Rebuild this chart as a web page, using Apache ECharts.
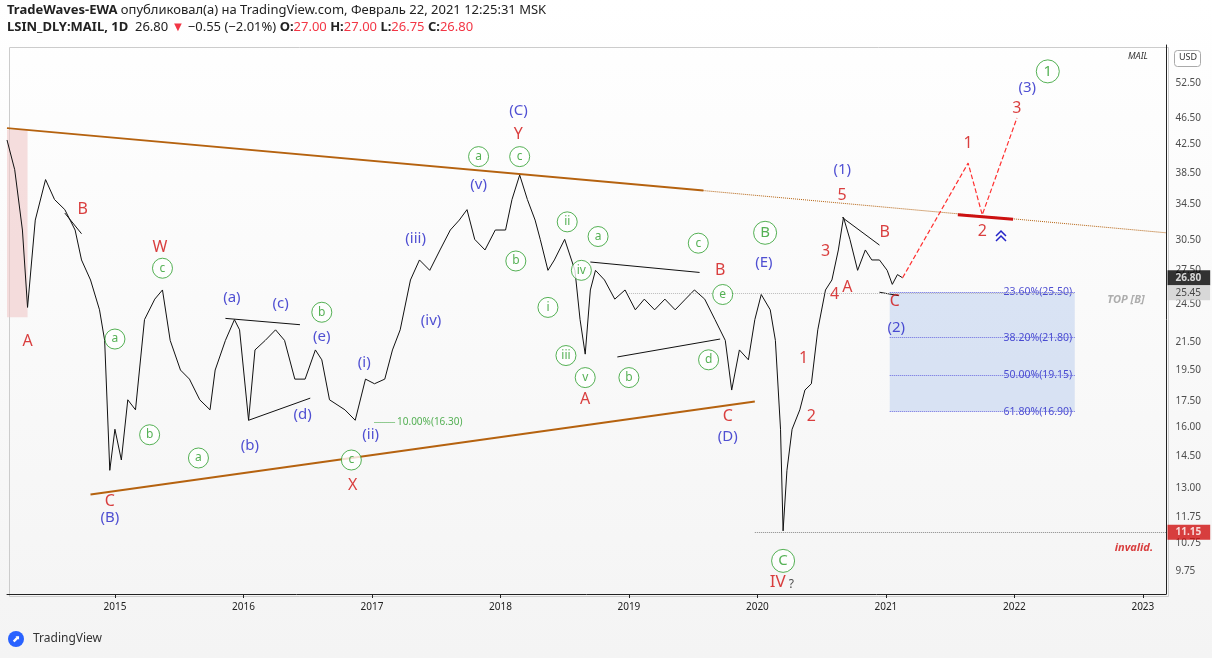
<!DOCTYPE html>
<html><head><meta charset="utf-8">
<script src="https://cdn.jsdelivr.net/npm/echarts@6/dist/echarts.min.js"></script>
<style>html,body{margin:0;padding:0;background:#fff}#c{width:1212px;height:658px}</style>
</head><body><div id="c"></div>
<script>
// price path: [decimal year, price]
const priceYears = [2014.16,2014.22,2014.28,2014.32,2014.38,2014.46,2014.53,2014.61,2014.69,2014.74,2014.81,2014.88,2014.92,2014.96,2015.00,2015.05,2015.10,2015.16,2015.23,2015.31,2015.37,2015.43,2015.51,2015.58,2015.66,2015.74,2015.78,2015.86,2015.93,2015.97,2016.04,2016.09,2016.17,2016.25,2016.32,2016.40,2016.48,2016.56,2016.61,2016.67,2016.79,2016.87,2016.95,2017.02,2017.10,2017.16,2017.22,2017.30,2017.37,2017.45,2017.53,2017.61,2017.68,2017.74,2017.80,2017.88,2017.96,2018.04,2018.09,2018.15,2018.21,2018.27,2018.31,2018.37,2018.42,2018.50,2018.58,2018.62,2018.66,2018.70,2018.74,2018.81,2018.89,2018.97,2019.05,2019.12,2019.20,2019.28,2019.36,2019.44,2019.51,2019.59,2019.67,2019.75,2019.80,2019.86,2019.93,2019.98,2020.03,2020.10,2020.14,2020.18,2020.20,2020.23,2020.27,2020.33,2020.37,2020.42,2020.47,2020.53,2020.58,2020.63,2020.67,2020.72,2020.78,2020.84,2020.89,2020.95,2021.01,2021.05,2021.09,2021.13];
const priceValues = [43.1,38.9,31.6,24.2,32.7,37.6,35.1,33.9,31.6,28.5,26.6,24.0,21.6,13.8,15.9,14.3,17.6,17.0,23.2,24.9,25.7,21.6,19.5,18.9,17.6,17.0,19.5,21.6,23.2,22.4,16.4,20.9,21.6,22.4,21.6,18.9,18.9,20.9,20.2,17.6,17.0,16.4,18.9,18.6,18.9,20.9,22.4,26.6,28.5,27.5,29.5,31.6,32.7,33.9,30.6,29.5,31.6,31.6,35.1,38.2,35.1,32.7,30.6,27.5,28.5,30.6,27.5,23.2,20.6,25.7,27.5,26.6,24.9,25.7,24.0,24.9,24.0,24.9,24.0,24.9,25.7,24.9,23.2,21.6,18.2,20.9,20.2,23.2,25.3,24.0,21.6,15.9,11.2,13.8,15.9,17.0,18.2,18.6,22.4,25.7,26.6,29.5,33.0,30.6,27.5,29.5,28.5,28.5,27.5,26.2,27.1,26.8];
const yearTicks = [2015,2016,2017,2018,2019,2020,2021,2022,2023];
const priceTicks = [52.50,46.50,42.50,38.50,34.50,30.50,27.50,24.50,21.50,19.50,17.50,16.00,14.50,13.00,11.75,10.75,9.75];
// annotations: [year, price, text]
const redLabels = [[2014.32,21.5,'A'],[2014.75,33.9,'B'],[2015.35,29.8,'W'],[2014.96,12.4,'C'],[2018.14,43.9,'Y'],[2016.85,13.1,'X'],[2018.66,17.6,'A'],[2019.71,27.5,'B'],[2019.77,16.6,'C'],[2020.36,20.3,'1'],[2020.42,16.6,'2'],[2020.53,29.4,'3'],[2020.60,25.3,'4'],[2020.66,35.6,'5'],[2020.70,25.9,'A'],[2020.99,31.3,'B'],[2021.07,24.7,'C'],[2021.64,42.6,'1'],[2021.75,31.4,'2'],[2022.02,48.0,'3']];
const blueLabels = [[2014.96,11.7,'(B)'],[2018.14,47.6,'(C)'],[2017.83,37.0,'(v)'],[2017.34,30.7,'(iii)'],[2017.46,23.1,'(iv)'],[2016.94,20.0,'(i)'],[2016.99,15.6,'(ii)'],[2015.91,25.0,'(a)'],[2016.05,15.0,'(b)'],[2016.29,24.5,'(c)'],[2016.46,16.7,'(d)'],[2016.61,21.9,'(e)'],[2020.05,28.2,'(E)'],[2019.77,15.5,'(D)'],[2020.66,38.9,'(1)'],[2021.08,22.6,'(2)'],[2022.10,51.6,'(3)']];
const greenCircled = [[2015.0,21.7,'a'],[2015.27,15.6,'b'],[2015.37,27.7,'c'],[2015.65,14.4,'a'],[2016.61,23.8,'b'],[2016.84,14.3,'c'],[2017.83,40.7,'a'],[2018.15,40.7,'c'],[2018.52,32.5,'ii'],[2018.76,30.9,'a'],[2018.12,28.4,'b'],[2018.37,24.2,'i'],[2018.63,27.5,'iv'],[2018.51,20.5,'iii'],[2018.66,19.0,'v'],[2019.0,19.0,'b'],[2019.54,30.2,'c'],[2019.73,25.3,'e'],[2019.62,20.2,'d']];
const greenBig = [[2020.06,31.3,'B'],[2020.20,10.1,'C'],[2022.26,54.6,'1']];
const upperTrendSolid = [[2014.16,44.9],[2019.58,36.2]];
const upperTrendDotted = [[2019.58,36.2],[2023.18,31.3]];
const lowerTrend = [[2014.81,12.7],[2019.98,17.5]];
const projection = [[2021.13,26.8],[2021.64,39.8],[2021.75,33.3],[2022.02,46.5]];
const redBar = [[2021.56,33.3],[2021.99,32.8]];
const blackLines = [[[2018.70,28.3],[2019.55,27.3]],[[2018.91,20.4],[2019.71,21.7]],[[2015.86,23.3],[2016.44,22.8]],[[2016.04,16.4],[2016.52,17.7]],[[2014.61,33.5],[2014.74,31.2]],[[2020.66,33.0],[2020.95,30.0]],[[2020.95,25.5],[2021.10,25.2]]];
const fibLevels = [[25.50,'23.60%(25.50)'],[21.80,'38.20%(21.80)'],[19.15,'50.00%(19.15)'],[16.90,'61.80%(16.90)']];
const fibBox = [2021.03,2022.47];
const lastPrice = 26.80, topB = 25.45, invalidLevel = 11.15, tenPct = 16.30;

const XMIN=2014.16, XMAX=2023.18, YMIN=9.01, YMAX=59.8;
const RED='#d10f0f', BLUE='#2424c8', GREEN='#2a9d2a', BROWN='#b5620f';
function txt(arr,color,size){return {type:'scatter',data:arr.map(a=>({value:[a[0],a[1]],label:{formatter:a[2]}})),symbolSize:1,itemStyle:{color:'rgba(0,0,0,0)'},silent:true,z:5,
 label:{show:true,position:'inside',color:color,fontSize:size,fontFamily:'Noto Sans'}};}
const series=[
 {type:'line',data:priceYears.map((y,i)=>[y,priceValues[i]]),showSymbol:false,lineStyle:{color:'#111',width:1},z:3,
  markArea:{silent:true,data:[
    [{coord:[fibBox[0],fibLevels[0][0]],itemStyle:{color:'rgba(190,208,238,0.55)'}},{coord:[fibBox[1],fibLevels[3][0]]}],
    [{coord:[XMIN,44.6],itemStyle:{color:'rgba(240,200,200,0.6)'}},{coord:[2014.32,23.4]}]]},
  markLine:{silent:true,symbol:'none',label:{show:false},data:[
    [{coord:[2019.0,topB],lineStyle:{color:'#bbb',type:'dotted',width:1}},{coord:[2022.47,topB]}],
    [{coord:[2019.98,invalidLevel],lineStyle:{color:'#888',type:'dotted',width:1}},{coord:[XMAX,invalidLevel]}],
    [{coord:[2017.02,tenPct],lineStyle:{color:GREEN,type:'dotted',width:1}},{coord:[2017.18,tenPct]}],
    ...fibLevels.map(f=>[{coord:[2021.03,f[0]],lineStyle:{color:'#6a6ae0',type:'dotted',width:1}},{coord:[2022.47,f[0]]}])]}},
 {type:'line',data:upperTrendSolid,showSymbol:false,lineStyle:{color:BROWN,width:2},silent:true},
 {type:'line',data:upperTrendDotted,showSymbol:false,lineStyle:{color:BROWN,width:1,type:'dotted'},silent:true},
 {type:'line',data:lowerTrend,showSymbol:false,lineStyle:{color:BROWN,width:2},silent:true},
 {type:'line',data:projection,showSymbol:false,lineStyle:{color:'#ff3030',width:1.2,type:'dashed'},silent:true},
 {type:'line',data:redBar,showSymbol:false,lineStyle:{color:'#cc1111',width:3},silent:true},
 ...blackLines.map(l=>({type:'line',data:l,showSymbol:false,lineStyle:{color:'#111',width:1},silent:true})),
 txt(redLabels,RED,16),
 txt(blueLabels,BLUE,15),
 {type:'scatter',data:greenCircled.map(a=>({value:[a[0],a[1]],label:{formatter:a[2]}})),symbol:'circle',symbolSize:20,silent:true,z:6,
  itemStyle:{color:'#fff',borderColor:GREEN,borderWidth:1},label:{show:true,position:'inside',color:GREEN,fontSize:12,fontFamily:'Noto Sans'}},
 {type:'scatter',data:greenBig.map(a=>({value:[a[0],a[1]],label:{formatter:a[2]}})),symbol:'circle',symbolSize:23,silent:true,z:6,
  itemStyle:{color:'#fff',borderColor:GREEN,borderWidth:1},label:{show:true,position:'inside',color:GREEN,fontSize:15,fontFamily:'Noto Sans'}},
 {type:'scatter',data:[{value:[2020.19,9.4],label:{formatter:'IV{q|?}'}}],symbolSize:1,itemStyle:{color:'rgba(0,0,0,0)'},
  label:{show:true,position:'inside',color:RED,fontSize:17,fontFamily:'Noto Sans',rich:{q:{color:'#222',fontSize:12,padding:[6,0,0,3]}}}},
 {type:'scatter',data:[{value:[2017.45,tenPct],label:{formatter:'10.00%(16.30)'}}],symbolSize:1,itemStyle:{color:'rgba(0,0,0,0)'},
  label:{show:true,position:'inside',color:GREEN,fontSize:10,fontFamily:'Noto Sans'}},
 {type:'scatter',data:fibLevels.map(f=>({value:[2022.47,f[0]],label:{formatter:f[1]}})),symbolSize:1,itemStyle:{color:'rgba(0,0,0,0)'},
  label:{show:true,position:'left',distance:2,color:BLUE,fontSize:10.5,fontFamily:'Noto Sans'}},
 {type:'scatter',data:[{value:[2022.47,24.8],label:{formatter:'TOP [B]'}}],symbolSize:1,itemStyle:{color:'rgba(0,0,0,0)'},
  label:{show:true,position:'right',distance:32,color:'#9a9a9a',fontSize:11,fontStyle:'italic',fontWeight:'bold',fontFamily:'Noto Sans'}},
 {type:'scatter',data:[{value:[2022.93,10.55],label:{formatter:'invalid.'}}],symbolSize:1,itemStyle:{color:'rgba(0,0,0,0)'},
  label:{show:true,position:'inside',color:RED,fontSize:11,fontStyle:'italic',fontWeight:'bold',fontFamily:'Noto Sans'}},
 // right price scale labels
 {type:'scatter',data:priceTicks.map(p=>({value:[XMAX,p],label:{formatter:p.toFixed(2)}})),symbolSize:1,clip:false,itemStyle:{color:'rgba(0,0,0,0)'},
  label:{show:true,position:'right',distance:9,color:'#222',fontSize:10,fontFamily:'Noto Sans'}},
 {type:'scatter',clip:false,symbolSize:1,itemStyle:{color:'rgba(0,0,0,0)'},z:8,data:[
   {value:[XMAX,lastPrice],label:{formatter:'26.80',backgroundColor:'#000',color:'#fff',fontWeight:'bold'}},
   {value:[XMAX,topB],label:{formatter:'25.45',backgroundColor:'#d0d0d0',color:'#222'}},
   {value:[XMAX,invalidLevel],label:{formatter:'11.15',backgroundColor:'#d01010',color:'#fff',fontWeight:'bold'}}],
  label:{show:true,position:'right',distance:1,fontSize:10,fontFamily:'Noto Sans',padding:[3,9,2,8]}}
];
const chart=echarts.init(document.getElementById('c'));
chart.setOption({
 backgroundColor:new echarts.graphic.LinearGradient(0,0,0,1,[{offset:0,color:'#ffffff'},{offset:1,color:'#f4f4f4'}]),
 animation:false,
 grid:{left:7,right:46,top:45,bottom:64},
 xAxis:{type:'value',min:XMIN,max:XMAX,minInterval:1,maxInterval:1,splitLine:{show:false},
  axisLine:{onZero:false,lineStyle:{color:'#222'}},axisTick:{length:4,lineStyle:{color:'#222'}},
  axisLabel:{showMinLabel:false,showMaxLabel:false,color:'#222',fontSize:10,fontFamily:'Noto Sans',margin:8,formatter:v=>yearTicks.includes(Math.round(v))?String(Math.round(v)):''}},
 yAxis:{type:'log',position:'right',min:YMIN,max:YMAX,splitLine:{show:false},axisLabel:{show:false},axisTick:{show:false},
  axisLine:{show:true,lineStyle:{color:'#222'}}},
 series:series,
 graphic:[
  {type:'rect',left:7,top:45,shape:{width:1159,height:549},style:{fill:'none',stroke:'#ccc'},silent:true},
  {type:'text',left:7,top:4,style:{text:'{b|TradeWaves-EWA} опубликовал(а) на TradingView.com, Февраль 22, 2021 12:25:31 MSK',font:'13px "Noto Sans"',fill:'#222',rich:{b:{fontWeight:'bold',fontSize:13,fontFamily:'Noto Sans'}}}},
  {type:'text',left:7,top:21,style:{text:'{b|LSIN_DLY:MAIL, 1D}  26.80 {r|▼} −0.55 (−2.01%) {b|O:}{r|27.00} {b|H:}{r|27.00} {b|L:}{r|26.75} {b|C:}{r|26.80}',font:'13px "Noto Sans"',fill:'#222',rich:{b:{fontWeight:'bold',fontSize:13,fontFamily:'Noto Sans'},r:{fill:'#f23645',color:'#f23645',fontSize:13,fontFamily:'Noto Sans'}}}},
  {type:'text',left:1128,top:52,style:{text:'MAIL',font:'italic 9px "Noto Sans"',fill:'#333'}},
  {type:'rect',left:1174,top:50,shape:{width:26,height:16,r:3},style:{fill:'#fff',stroke:'#aaa'}},
  {type:'text',left:1179,top:53,style:{text:'USD',font:'9px "Noto Sans"',fill:'#333'}},
  {type:'circle',left:8,top:631,shape:{r:8},style:{fill:'#2962ff'}},
  {type:'text',left:12,top:634,style:{text:'⬈',font:'10px "DejaVu Sans"',fill:'#fff'}},
  {type:'text',left:33,top:633,style:{text:'TradingView',font:'12px "Noto Sans"',fill:'#333'}},
  {type:'polyline',shape:{points:[[996,236],[1001,231],[1006,236]]},style:{stroke:'#2424c8',lineWidth:1.5,fill:'none'}},
  {type:'polyline',shape:{points:[[996,241],[1001,236],[1006,241]]},style:{stroke:'#2424c8',lineWidth:1.5,fill:'none'}}
 ]
});
</script></body></html>
